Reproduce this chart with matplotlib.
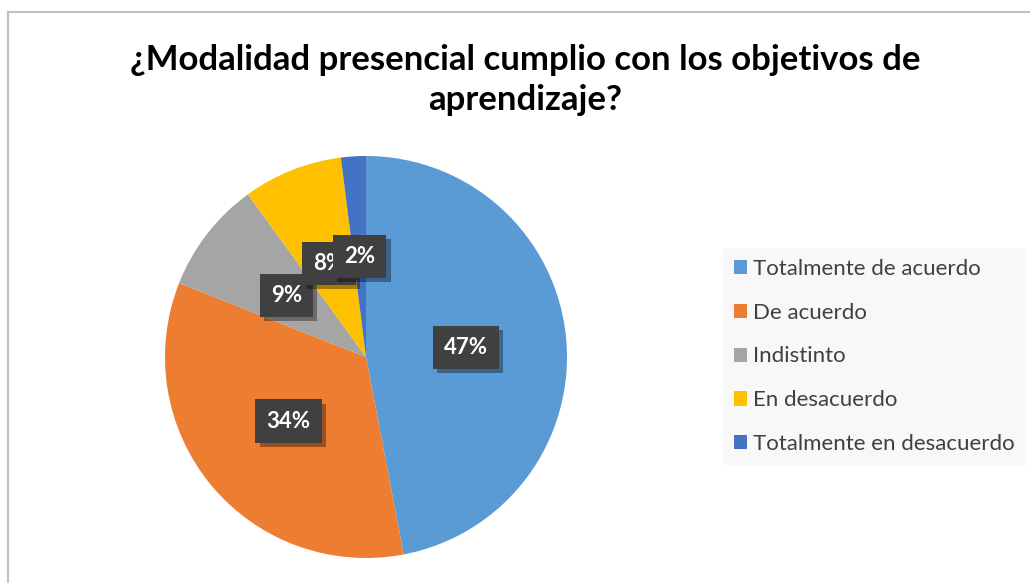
import matplotlib
matplotlib.use("Agg")
import matplotlib.pyplot as plt
import matplotlib.patheffects as pe
from matplotlib.lines import Line2D

plt.rcParams['font.family'] = ['Lato', 'DejaVu Sans']
plt.rcParams['hatch.color'] = '#4e4e4e'
plt.rcParams['hatch.linewidth'] = 1.5

title = "¿Modalidad presencial cumplio con los objetivos de\naprendizaje?"
categories = ["Totalmente de acuerdo", "De acuerdo", "Indistinto",
              "En desacuerdo", "Totalmente en desacuerdo"]
values = [47, 34, 9, 8, 2]
colors = ["#5B9BD5", "#ED7D31", "#A5A5A5", "#FFC000", "#4472C4"]

W, H = 1030, 583
fig = plt.figure(figsize=(W/100, H/100), dpi=100)
fig.patch.set_facecolor('white')

# chart border
fig.add_artist(Line2D([8/W, 8/W], [0, 1 - 12/H], color='#C0C0C0', lw=1.5, transform=fig.transFigure))
fig.add_artist(Line2D([8/W, 1], [1 - 12/H, 1 - 12/H], color='#C0C0C0', lw=1.5, transform=fig.transFigure))

cx, cy, r = 366, 357, 201
ax = fig.add_axes([(cx - r)/W, (H - cy - r)/H, 2*r/W, 2*r/H])
wedges, texts, autotexts = ax.pie(values, colors=colors, startangle=90, counterclock=False,
                                  autopct=lambda p: f"{p:.0f}%", pctdistance=0.5,
                                  wedgeprops=dict(linewidth=0),
                                  textprops=dict(color='white', fontsize=16, fontweight='bold'))
ax.set_xlim(-1, 1)
ax.set_ylim(-1, 1)
ax.set_aspect('equal')
for t in autotexts:
    t.set_bbox(dict(boxstyle='square,pad=0.5', facecolor='#404040', edgecolor='none', hatch='.'))
    t.get_bbox_patch().set_path_effects([pe.SimplePatchShadow(offset=(3, -3), shadow_rgbFace='black', alpha=0.35), pe.Normal()])

fig.text(525/W, 1 - 80/H, title, ha='center', va='center', fontsize=25, fontweight='bold',
         color='black', linespacing=1.3)

leg = fig.legend(wedges, categories, loc='center left', bbox_to_anchor=(723/W, (H - 356.5)/H),
                 frameon=True, fancybox=False, facecolor='#F8F8F8', edgecolor='none', framealpha=1,
                 fontsize=16, handlelength=0.6, handleheight=0.6, handletextpad=0.25,
                 labelspacing=1.07, borderpad=0.5, borderaxespad=0)
for t in leg.get_texts():
    t.set_color('#404040')

fig.savefig('out.png', dpi=100)
